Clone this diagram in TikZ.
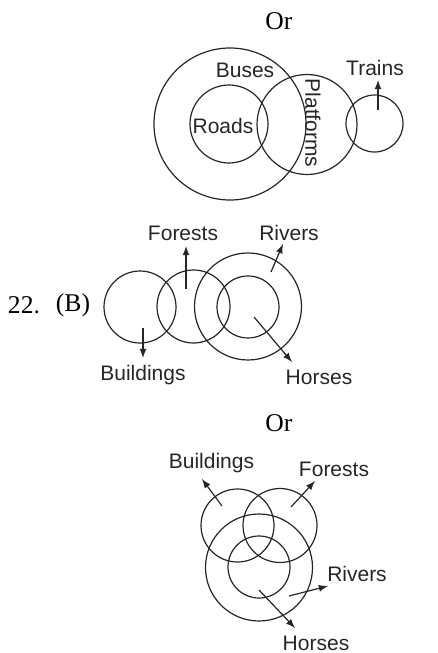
\documentclass[tikz,border=0pt]{standalone}
\usepackage{fontspec}
\setmainfont{Liberation Serif}
\setsansfont{Liberation Sans}
\usetikzlibrary{arrows}
\begin{document}
\begin{tikzpicture}[x=0.5pt, y=-0.5pt, >=latex]
		\tikzstyle{set}=[circle, draw=black!85, line width=0.6pt, inner sep=0pt]
		\tikzstyle{lbl}=[font=\sffamily\fontsize{10.5}{12}\selectfont, text=black!85, inner sep=0pt]
		\tikzstyle{num}=[font=\fontsize{12.8}{14}\selectfont, inner sep=0pt]
		\tikzstyle{connect}=[-latex, line width=0.6pt, draw=black!85]
		\useasboundingbox (0,0) rectangle (438,653);
		% first answer
		\node[num] (or1) at (279,21) {Or};
		\node[set, minimum size=76pt] (buses) at (230,124) {};
		\node[set, minimum size=39pt] (roads) at (229,124) {};
		\node[set, minimum size=50pt] (platforms) at (307,124.5) {};
		\node[set, minimum size=28.5pt] (trains) at (374.5,123.5) {};
		\node[lbl] (buses_t) at (245,70) {Buses};
		\node[lbl] (roads_t) at (223,126) {Roads};
		\node[lbl, rotate=-90] (platforms_t) at (313,123) {Platforms};
		\node[lbl] (trains_t) at (375,68) {Trains};
		\coordinate (trains_a) at (378,110);
		\coordinate (trains_b) at (378,80);
		% question 22
		\node[num] (q22) at (24,305) {22.};
		\node[num] (optb) at (73,305) {(B)};
		\node[set, minimum size=36pt] (bldg) at (140,307) {};
		\node[set, minimum size=36.5pt] (forest) at (193.5,306.5) {};
		\node[set, minimum size=53.5pt] (river) at (248,306.5) {};
		\node[set, minimum size=31pt] (horse) at (248,307) {};
		\node[lbl] (forest_t) at (183,233) {Forests};
		\node[lbl] (river_t) at (289,233) {Rivers};
		\node[lbl] (bldg_t) at (143,375) {Buildings};
		\node[lbl] (horse_t) at (319,377) {Horses};
		\coordinate (forest_a) at (186,289);
		\coordinate (forest_b) at (186,246);
		\coordinate (river_a) at (271,272);
		\coordinate (river_b) at (283,244);
		\coordinate (bldg_a) at (143,328);
		\coordinate (bldg_b) at (143,358);
		\coordinate (horse_a) at (254,317);
		\coordinate (horse_b) at (292,362);
		% second answer
		\node[num] (or2) at (279,423) {Or};
		\node[set, minimum size=36.5pt] (bldg2) at (237.5,525.5) {};
		\node[set, minimum size=37pt] (forest2) at (280,525.5) {};
		\node[set, minimum size=53.5pt] (river2) at (259,567.5) {};
		\node[set, minimum size=31pt] (horse2) at (259,567) {};
		\node[lbl] (bldg2_t) at (211.5,463) {Buildings};
		\node[lbl] (forest2_t) at (334,469) {Forests};
		\node[lbl] (river2_t) at (357,574) {Rivers};
		\node[lbl] (horse2_t) at (316,643) {Horses};
		\coordinate (bldg2_a) at (222,506);
		\coordinate (bldg2_b) at (202,479);
		\coordinate (forest2_a) at (291,507);
		\coordinate (forest2_b) at (315,481);
		\coordinate (river2_a) at (289,596);
		\coordinate (river2_b) at (328,586);
		\coordinate (horse2_a) at (259,590);
		\coordinate (horse2_b) at (295,628);
		\path
		(trains_a) edge [connect] (trains_b)
		(forest_a) edge [connect] (forest_b)
		(river_a) edge [connect] (river_b)
		(bldg_a) edge [connect] (bldg_b)
		(horse_a) edge [connect] (horse_b)
		(bldg2_a) edge [connect] (bldg2_b)
		(forest2_a) edge [connect] (forest2_b)
		(river2_a) edge [connect] (river2_b)
		(horse2_a) edge [connect] (horse2_b)
		;
	\end{tikzpicture}
\end{document}
